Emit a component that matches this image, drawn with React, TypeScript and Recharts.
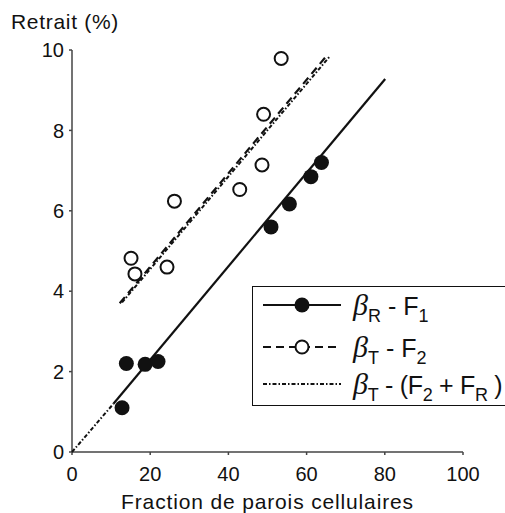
import React from "react";
import { ScatterChart, Scatter, XAxis, YAxis } from "recharts";

const xTicks = [0, 20, 40, 60, 80, 100];
const yTicks = [0, 2, 4, 6, 8, 10];

// beta R - F1 (filled points)
const f1X = [12.8, 13.9, 18.7, 22.0, 50.9, 55.6, 61.1, 63.8];
const f1Y = [1.1, 2.2, 2.18, 2.25, 5.6, 6.17, 6.85, 7.2];

// beta T - F2 (open points)
const f2X = [15.1, 16.1, 24.3, 26.2, 42.9, 48.6, 49.0, 53.5];
const f2Y = [4.82, 4.43, 4.6, 6.24, 6.53, 7.14, 8.4, 9.79];

// fitted lines
const fitF1X = [10.6, 80.1];
const fitF1Y = [1.2, 9.28];
const extF1X = [0, 10.6];
const extF1Y = [0, 1.2];
const fitF2X = [12.2, 65.5];
const fitF2Y = [3.7, 9.9];
const fitF2RX = [12.8, 66.0];
const fitF2RY = [3.72, 9.85];

const toPoints = (xs: number[], ys: number[]) =>
  xs.map((x, i) => ({ x, y: ys[i] }));

const INK = "#111";
const font = "'Liberation Sans', Arial, sans-serif";

const FilledDot = (props: any) => (
  <circle cx={props.cx} cy={props.cy} r={7.5} fill={INK} />
);
const OpenDot = (props: any) => (
  <circle cx={props.cx} cy={props.cy} r={6.5} fill="#fff" stroke={INK} strokeWidth={2} />
);
const NoDot = () => <g />;

const Beta = ({ sub }: { sub: string }) => (
  <>
    <span style={{ fontFamily: "'Liberation Serif', serif", fontStyle: "italic", fontSize: 30 }}>β</span>
    <span style={{ fontSize: 18, position: "relative", top: 7 }}>{sub}</span>
  </>
);
const Sub = ({ t }: { t: string }) => (
  <span style={{ fontSize: 18, position: "relative", top: 7 }}>{t}</span>
);

const LegendBox = () => {
  const row = (top: number, sample: React.ReactNode, label: React.ReactNode) => (
    <div style={{ position: "absolute", left: 8, top, display: "flex", alignItems: "center", height: 36 }}>
      <svg width={82} height={20}>{sample}</svg>
      <div style={{ marginLeft: 10, whiteSpace: "nowrap" }}>{label}</div>
    </div>
  );
  return (
    <div
      style={{
        position: "absolute",
        left: 252,
        top: 286,
        width: 270,
        height: 120,
        border: `1.5px solid ${INK}`,
        boxSizing: "border-box",
        background: "#fff",
        fontFamily: font,
        fontSize: 25,
        color: INK,
      }}
    >
      {row(
        0,
        <>
          <line x1={2} y1={10} x2={80} y2={10} stroke={INK} strokeWidth={2} />
          <circle cx={41} cy={10} r={7.5} fill={INK} />
        </>,
        <><Beta sub="R" /> - F<Sub t="1" /></>
      )}
      {row(
        42,
        <>
          <line x1={2} y1={10} x2={80} y2={10} stroke={INK} strokeWidth={2} strokeDasharray="8 5" />
          <circle cx={41} cy={10} r={6.5} fill="#fff" stroke={INK} strokeWidth={2} />
        </>,
        <><Beta sub="T" /> - F<Sub t="2" /></>
      )}
      {row(
        79,
        <line x1={2} y1={10} x2={80} y2={10} stroke={INK} strokeWidth={2} strokeDasharray="4 2 1.5 2" />,
        <span style={{ letterSpacing: -0.3 }}><Beta sub="T" /> - (F<Sub t="2" /> + F<Sub t="R" /> )</span>
      )}
    </div>
  );
};

export default function App() {
  return (
    <div style={{ position: "absolute", left: 0, top: 0, width: 505, height: 513, overflow: "hidden", background: "#fff" }}>
      <div style={{ position: "absolute", left: 11, top: 10, fontFamily: font, fontSize: 21, letterSpacing: 0.7, color: INK, zIndex: 2 }}>
        Retrait (%)
      </div>
      <ScatterChart width={505} height={513} margin={{ top: 50, right: 42, bottom: 31, left: 12 }}>
        <XAxis
          type="number"
          dataKey="x"
          domain={[0, 100]}
          ticks={xTicks}
          interval={0}
          stroke="#444"
          strokeWidth={1.5}
          tickSize={3}
          tickMargin={12}
          height={30}
          tick={{ fontSize: 20, fill: INK, fontFamily: font }}
          label={{ value: "Fraction de parois cellulaires", position: "bottom", offset: 12, fontSize: 21, letterSpacing: 0.85, fill: INK, fontFamily: font }}
        />
        <YAxis
          type="number"
          dataKey="y"
          domain={[0, 10]}
          ticks={yTicks}
          interval={0}
          stroke="#444"
          strokeWidth={1.5}
          tickSize={3}
          tickMargin={5}
          width={60}
          tick={{ fontSize: 20, fill: INK, fontFamily: font }}
        />
        <Scatter data={toPoints(extF1X, extF1Y)} shape={NoDot} legendType="none" isAnimationActive={false}
          line={{ stroke: INK, strokeWidth: 2, strokeDasharray: "4 2 1.5 2" }} />
        <Scatter data={toPoints(fitF1X, fitF1Y)} shape={NoDot} legendType="none" isAnimationActive={false}
          line={{ stroke: INK, strokeWidth: 2.2 }} />
        <Scatter data={toPoints(fitF2X, fitF2Y)} shape={NoDot} legendType="none" isAnimationActive={false}
          line={{ stroke: INK, strokeWidth: 2.2, strokeDasharray: "8 5" }} />
        <Scatter data={toPoints(fitF2RX, fitF2RY)} shape={NoDot} legendType="none" isAnimationActive={false}
          line={{ stroke: INK, strokeWidth: 2, strokeDasharray: "4 2 1.5 2" }} />
        <Scatter data={toPoints(f1X, f1Y)} shape={FilledDot} isAnimationActive={false} />
        <Scatter data={toPoints(f2X, f2Y)} shape={OpenDot} isAnimationActive={false} />
      </ScatterChart>
      <LegendBox />
    </div>
  );
}
